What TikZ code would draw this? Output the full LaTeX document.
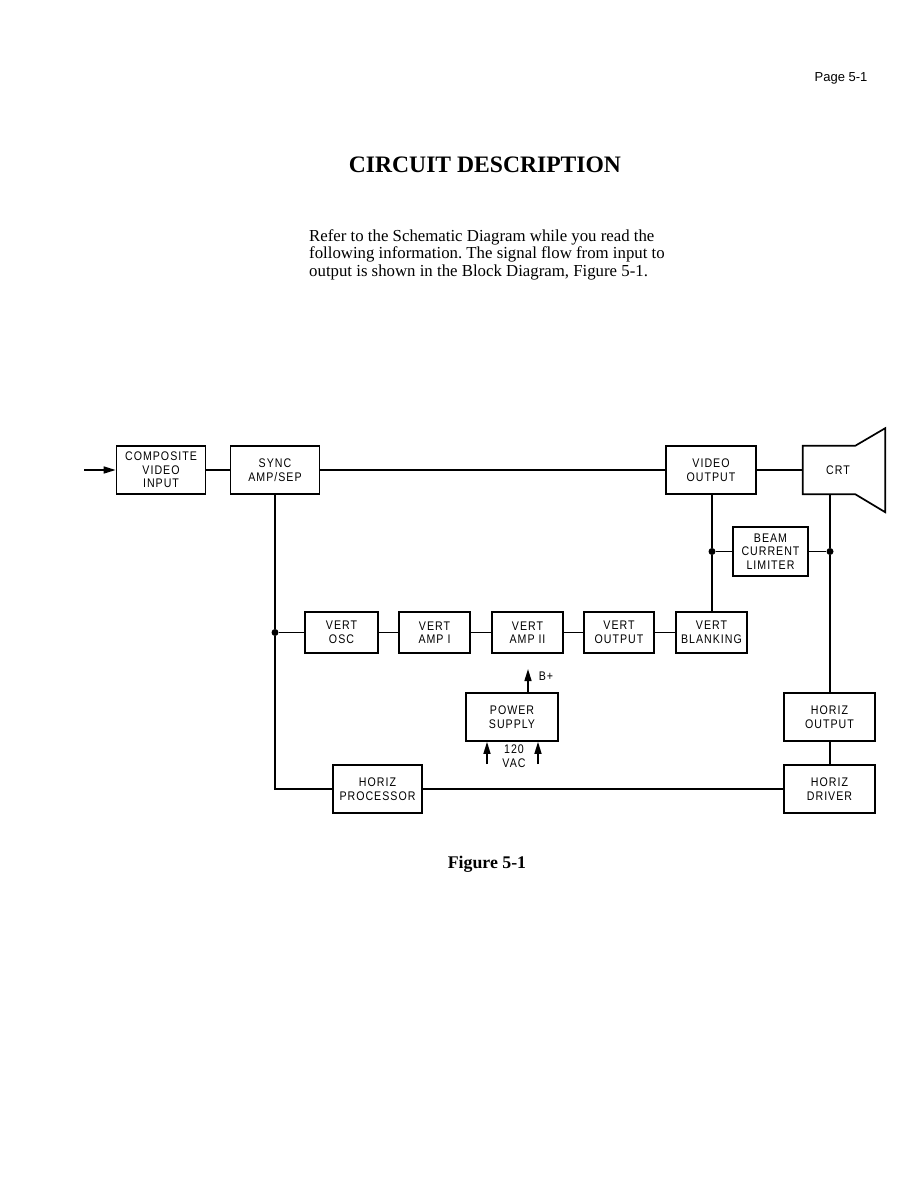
\documentclass[tikz,border=0pt]{standalone}
\usepackage{fontspec}
\setmainfont{Liberation Serif}
\newfontfamily\blockfont[FakeStretch=0.85, LetterSpace=8]{Liberation Sans}
\newfontfamily\pagefont{Liberation Sans}
\usetikzlibrary{arrows.meta}
\frenchspacing
\begin{document}
\begin{tikzpicture}[x=1pt, y=-1pt, >={Triangle[length=12pt,width=7pt]},
    blk/.style={draw, line width=1.7pt, inner sep=0pt, align=center,
      font=\blockfont\fontsize{12.5}{13.5}\selectfont},
    wide/.style={blk, minimum width=89pt, minimum height=48pt},
    vrow/.style={blk, minimum width=71pt, minimum height=41pt},
    wire/.style={line width=1.5pt},
    dot/.style={circle, fill, inner sep=0pt, minimum size=7pt}]
    \useasboundingbox (0,0) rectangle (918,1187);
    \node[font=\pagefont\fontsize{13}{15}\selectfont] (page) at (841,78) {Page 5-1};
    \node[font=\bfseries\fontsize{23.6}{26}\selectfont] (title) at (485,165) {CIRCUIT DESCRIPTION};
    \node[anchor=north west, inner sep=0pt, align=left, font=\fontsize{16.8}{17.6}\selectfont] (intro) at (309,229)
      {Refer to the Schematic Diagram while you read the\\
       following information. The signal flow from input to\\
       output is shown in the Block Diagram, Figure 5-1.};
    \node[wide] (comp) at (161,470) {COMPOSITE\\VIDEO\\INPUT};
    \node[wide] (sync) at (275,470) {SYNC\\AMP/SEP};
    \node[wide, minimum width=90pt] (vidout) at (711,470) {VIDEO\\OUTPUT};
    \node[inner sep=0pt, minimum width=52pt, minimum height=48pt] (crt) at (829,470) {};
    \node[blk, draw=none] (crtname) at (838,470) {CRT};
    \draw[line width=1.7pt, line join=miter] (crt.east |- crt.north) -- (crt.north west) -- (crt.south west)
      -- (crt.south east) -- ++(30,18) -- ++(0,-84) -- cycle;
    \node[blk, minimum width=75pt, minimum height=49pt] (beam) at (770.5,551.5) {BEAM\\CURRENT\\LIMITER};
    \node[vrow, minimum width=73pt] (vosc) at (341.5,632.5) {VERT\\OSC};
    \node[vrow] (vamp1) at (434.5,632.5) {VERT\\AMP I};
    \node[vrow] (vamp2) at (527.5,632.5) {VERT\\AMP II};
    \node[vrow, minimum width=70pt] (vout) at (619,632.5) {VERT\\OUTPUT};
    \node[vrow] (vblank) at (711.5,632.5) {VERT\\BLANKING};
    \node[wide, minimum width=92pt] (power) at (512,717) {POWER\\SUPPLY};
    \node[wide, minimum width=91pt] (hout) at (829.5,717) {HORIZ\\OUTPUT};
    \node[wide, minimum width=91pt] (hdrv) at (829.5,789) {HORIZ\\DRIVER};
    \node[wide] (hproc) at (377.5,789) {HORIZ\\PROCESSOR};
    \node[dot] (jv) at (712,551.5) {};
    \node[dot] (jc) at (830,551.5) {};
    \node[dot] (jo) at (275,632.5) {};
    \coordinate (in) at (84,470);
    \coordinate (bp) at (528,669);
    \coordinate (aca) at (487,764);
    \coordinate (acb) at (538,764);
    \node[blk, draw=none] (bplabel) at (546,676) {B+};
    \node[blk, draw=none] (vac) at (514,756) {120\\VAC};
    \draw[wire, ->] (in) -- (comp.west);
    \draw[wire] (comp.east) -- (sync.west);
    \draw[wire] (sync.east) -- (vidout.west);
    \draw[wire] (vidout.east) -- (crt.west);
    \draw[wire] (vidout.south -| jv) -- (jv) -- (vblank.north -| jv);
    \draw[wire] (beam.west) -- (jv);
    \draw[wire] (crt.south -| jc) -- (jc) -- (hout.north -| jc);
    \draw[wire] (beam.east) -- (jc);
    \draw[wire] (sync.south -| jo) -- (jo) -- (jo |- hproc) -- (hproc.west);
    \draw[wire] (jo) -- (vosc.west);
    \draw[wire] (vosc.east) -- (vamp1.west);
    \draw[wire] (vamp1.east) -- (vamp2.west);
    \draw[wire] (vamp2.east) -- (vout.west);
    \draw[wire] (vout.east) -- (vblank.west);
    \draw[wire] (hout.south -| jc) -- (hdrv.north -| jc);
    \draw[wire] (hproc.east) -- (hdrv.west);
    \draw[wire, ->] (power.north -| bp) -- (bp);
    \draw[wire, ->] (aca) -- (aca |- power.south);
    \draw[wire, ->] (acb) -- (acb |- power.south);
    \node[font=\bfseries\fontsize{17.8}{20}\selectfont] (caption) at (487,864) {Figure 5-1};
\end{tikzpicture}
\end{document}
